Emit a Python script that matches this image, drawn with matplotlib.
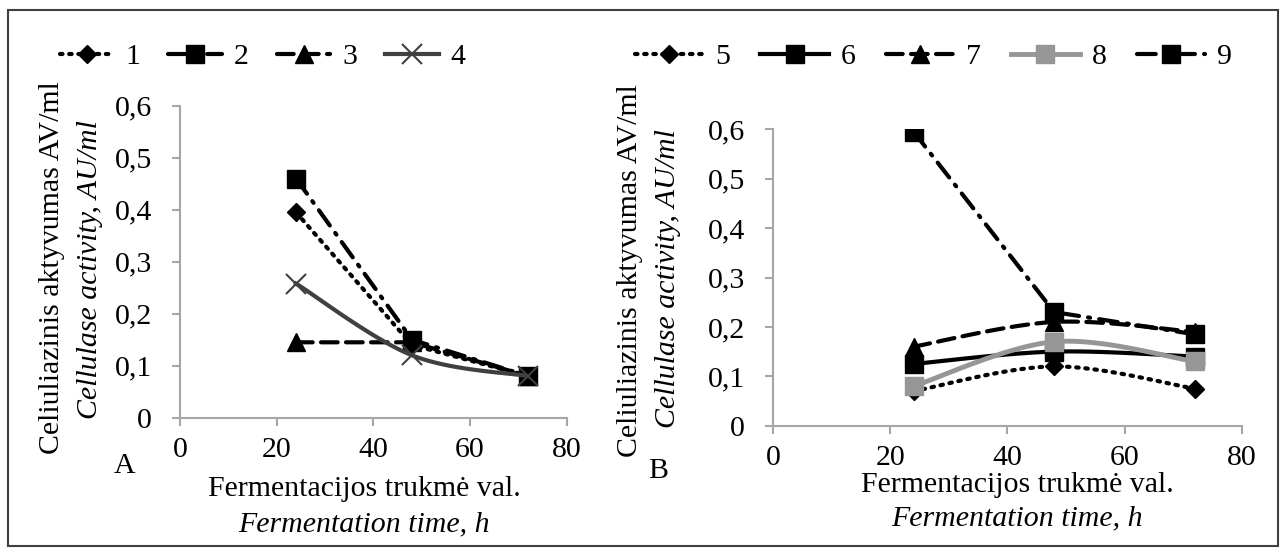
import numpy as np
import matplotlib.pyplot as plt
from matplotlib.lines import Line2D
from matplotlib.patches import Rectangle

plt.rcParams['font.family'] = ['Liberation Serif', 'DejaVu Serif']

hours = [24, 48, 72]

# panel A
s1 = [0.395, 0.14, 0.08]
s2 = [0.46, 0.15, 0.08]
s3 = [0.145, 0.145, 0.08]
s4 = [0.258, 0.12, 0.08]

# panel B
s5 = [0.07, 0.12, 0.075]
s6 = [0.125, 0.15, 0.14]
s7 = [0.16, 0.21, 0.19]
s8 = [0.08, 0.17, 0.13]
s9 = [0.595, 0.23, 0.185]

x_ticks = [0, 20, 40, 60, 80]
y_ticks = [0, 0.1, 0.2, 0.3, 0.4, 0.5, 0.6]
y_ticklabels = ['0', '0,1', '0,2', '0,3', '0,4', '0,5', '0,6']

FS = 21.5
GRID = '#a6a6a6'
W, H = 1281, 548


def smooth(x, y, n=40):
    # excel style smoothed line (bezier through the points)
    x = np.asarray(x, float)
    y = np.asarray(y, float)
    px = np.concatenate([[x[0]], x, [x[-1]]])
    py = np.concatenate([[y[0]], y, [y[-1]]])
    xs, ys = [], []
    for i in range(1, len(px) - 2):
        t = np.linspace(0, 1, n)
        for arr, out in ((px, xs), (py, ys)):
            p0, p1, p2, p3 = arr[i - 1], arr[i], arr[i + 1], arr[i + 2]
            c1 = p1 + (p2 - p0) / 6
            c2 = p2 - (p3 - p1) / 6
            out.extend((1 - t) ** 3 * p1 + 3 * (1 - t) ** 2 * t * c1
                       + 3 * (1 - t) * t ** 2 * c2 + t ** 3 * p2)
    return xs, ys


dot = dict(linestyle=(0, (0.6, 1.6)), dash_capstyle='round')
dashdot = dict(linestyle=(0, (4.5, 2.2, 0.5, 2.2)), dash_capstyle='round')
dash = dict(linestyle=(0, (4, 2)), dash_capstyle='round')

styles_a = [
    (s1, '1', dict(color='black', lw=3, **dot), dict(marker='D', ms=9), False),
    (s2, '2', dict(color='black', lw=3, **dashdot), dict(marker='s', ms=13), False),
    (s3, '3', dict(color='black', lw=3, **dash), dict(marker='^', ms=13), False),
    (s4, '4', dict(color='#404040', lw=3, linestyle='-'), dict(marker='x', ms=14, mew=1.5), True),
]
styles_b = [
    (s5, '5', dict(color='black', lw=3, **dot), dict(marker='D', ms=9), True),
    (s6, '6', dict(color='black', lw=3, linestyle='-'), dict(marker='s', ms=13), True),
    (s7, '7', dict(color='black', lw=3, **dash), dict(marker='^', ms=13), True),
    (s8, '8', dict(color='#969696', lw=3.5, linestyle='-'), dict(marker='s', ms=13), True),
    (s9, '9', dict(color='black', lw=3, **dashdot), dict(marker='s', ms=13), False),
]

fig = plt.figure(figsize=(W / 100, H / 100), dpi=100)
ax_a = fig.add_axes([180 / W, 1 - 417.7 / H, 386.7 / W, 312 / H])
ax_b = fig.add_axes([773 / W, 1 - 425.7 / H, 468.7 / W, 296.4 / H])


def draw(ax, styles):
    handles = []
    for vals, name, lkw, mkw, sm in styles:
        if sm:
            xs, ys = smooth(hours, vals)
        else:
            xs, ys = hours, vals
        ax.plot(xs, ys, **lkw)
        ax.plot(hours, vals, linestyle='none', color=lkw['color'],
                markeredgecolor=lkw['color'], **mkw)
        handles.append(Line2D([], [], color=lkw['color'], lw=lkw['lw'],
                              linestyle=lkw['linestyle'],
                              dash_capstyle=lkw.get('dash_capstyle', 'butt'),
                              markeredgecolor=lkw['color'], label=name, **mkw))
    ax.set_xlim(0, 80)
    ax.set_ylim(0, 0.6)
    ax.set_xticks(x_ticks)
    ax.set_yticks(y_ticks)
    ax.set_yticklabels(y_ticklabels)
    for side in ('top', 'right'):
        ax.spines[side].set_visible(False)
    for side in ('left', 'bottom'):
        ax.spines[side].set_color(GRID)
        ax.spines[side].set_linewidth(1.5)
    ax.tick_params(direction='out', length=6, width=1.5, color=GRID,
                   labelsize=FS)
    ax.tick_params(axis='x', pad=8)
    ax.tick_params(axis='y', pad=14)
    ax.set_facecolor('none')
    return handles


h_a = draw(ax_a, styles_a)
h_b = draw(ax_b, styles_b)

fig.legend(handles=h_a, loc='center left', bbox_to_anchor=(48 / W, 1 - 57 / H),
           ncol=4, frameon=False, fontsize=FS, handlelength=1.8, handletextpad=0.4,
           columnspacing=0.93, numpoints=1, borderaxespad=0)
fig.legend(handles=h_b, loc='center left', bbox_to_anchor=(623 / W, 1 - 57 / H),
           ncol=5, frameon=False, fontsize=FS, handlelength=2.3, handletextpad=0.4,
           columnspacing=1.0, numpoints=1, borderaxespad=0)

# axis titles
for xl, xi, y1, y2 in ((52, 90, 268, 270), (630, 668, 271, 279)):
    fig.text(xl / W, 1 - y1 / H, 'Celiuliazinis aktyvumas AV/ml', rotation=90,
             ha='center', va='center', fontsize=FS)
    fig.text(xi / W, 1 - y2 / H, 'Cellulase activity, AU/ml', rotation=90,
             ha='center', va='center', fontsize=FS, style='italic')

for xc, y1, y2 in ((364, 489, 524), (1017, 485, 518)):
    fig.text(xc / W, 1 - y1 / H, 'Fermentacijos trukmė val.',
             ha='center', va='center', fontsize=FS)
    fig.text(xc / W, 1 - y2 / H, 'Fermentation time, h',
             ha='center', va='center', fontsize=FS, style='italic')

fig.text(125 / W, 1 - 466 / H, 'A', ha='center', va='center', fontsize=FS)
fig.text(658 / W, 1 - 471 / H, 'B', ha='center', va='center', fontsize=FS)

fig.patches.append(Rectangle((8 / W, 2 / H), 1270 / W, 536 / H,
                             transform=fig.transFigure, fill=False,
                             edgecolor='#404040', lw=1.5))

fig.savefig('out.png', dpi=100)
